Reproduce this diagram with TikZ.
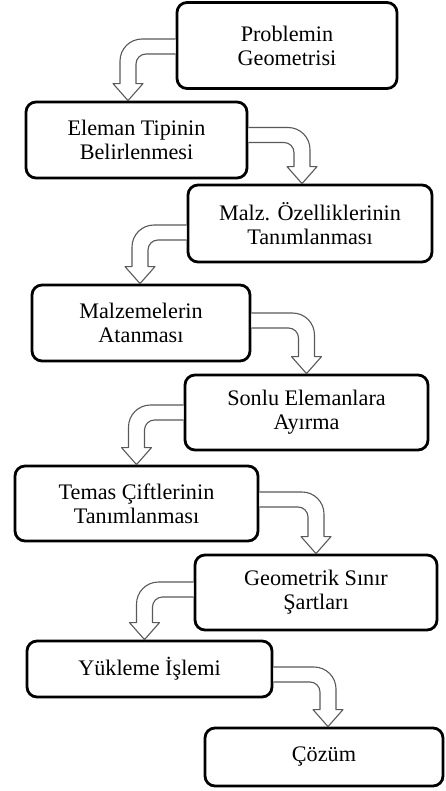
\documentclass[tikz,border=0pt]{standalone}
\usepackage{fontspec}
\setmainfont{Liberation Serif}
\usetikzlibrary{calc}
\newcommand{\turnarrow}[4][]{
    \draw[hollow,#1] let \p1=(#2), \p2=(#3) in (\x1,{\y1+7.5pt}) -- ({\x2+#4*(8pt-22pt)},{\y1+7.5pt}) arc [start angle=90, delta angle={-90*#4}, radius=22pt] -- ({\x2+#4*8pt},{\y2+17pt}) -- ({\x2+#4*15pt},{\y2+17pt}) -- (\x2,\y2) -- ({\x2-#4*15pt},{\y2+17pt}) -- ({\x2-#4*8pt},{\y2+17pt}) -- ({\x2-#4*8pt},{\y1-17.5pt}) arc [start angle={90-90*#4}, delta angle={90*#4}, radius=10pt] -- (\x1,{\y1-7.5pt});
}
\tikzset{
    stage/.style={draw, line width=2.8pt, rounded corners=10pt, fill=white, align=center, inner sep=0pt, font=\fontsize{22.2}{24}\selectfont},
    hollow/.style={draw=black!65, line width=1.1pt, fill=white, line join=round}
}

\begin{document}
\begin{tikzpicture}[x=1pt,y=-1pt]
\useasboundingbox (0,0) rectangle (445,791);
\node[stage, minimum width=220pt, minimum height=86pt] (geo) at (287,45.5) {Problemin\\Geometrisi};
\node[stage, minimum width=221pt, minimum height=76pt] (type) at (136.5,140) {Eleman Tipinin\\Belirlenmesi};
\node[stage, minimum width=244pt, minimum height=77pt] (prop) at (310,223.5) {Malz. Özelliklerinin\\Tanımlanması};
\node[stage, minimum width=218pt, minimum height=76pt] (assign) at (141,323) {Malzemelerin\\Atanması};
\node[stage, minimum width=243pt, minimum height=75pt] (mesh) at (306.5,412.5) {Sonlu Elemanlara\\Ayırma};
\node[stage, minimum width=243pt, minimum height=75pt] (contact) at (136.5,503.5) {Temas Çiftlerinin\\Tanımlanması};
\node[stage, minimum width=242pt, minimum height=75pt] (bound) at (316,592.5) {Geometrik Sınır\\Şartları};
\node[stage, minimum width=245pt, minimum height=56pt] (load) at (149.5,669) {Yükleme İşlemi};
\node[stage, minimum width=238pt, minimum height=58pt] (solve) at (324,757) {Çözüm};

\turnarrow{[yshift=-1pt]geo.west}{[xshift=-8.5pt]type.north}{-1}
\turnarrow{[yshift=5pt]type.east}{[xshift=-8pt]prop.north}{1}
\turnarrow{[yshift=-9pt]prop.west}{[xshift=-1pt]assign.north}{-1}
\turnarrow{[yshift=2.5pt]assign.east}{mesh.north}{1}
\turnarrow{mesh.west}{contact.north}{-1}
\turnarrow{[yshift=4pt]contact.east}{bound.north}{1}
\turnarrow{[yshift=3pt]bound.west}{[xshift=-5pt]load.north}{-1}
\turnarrow{[yshift=-5.5pt]load.east}{[xshift=4pt]solve.north}{1}
\end{tikzpicture}
\end{document}
